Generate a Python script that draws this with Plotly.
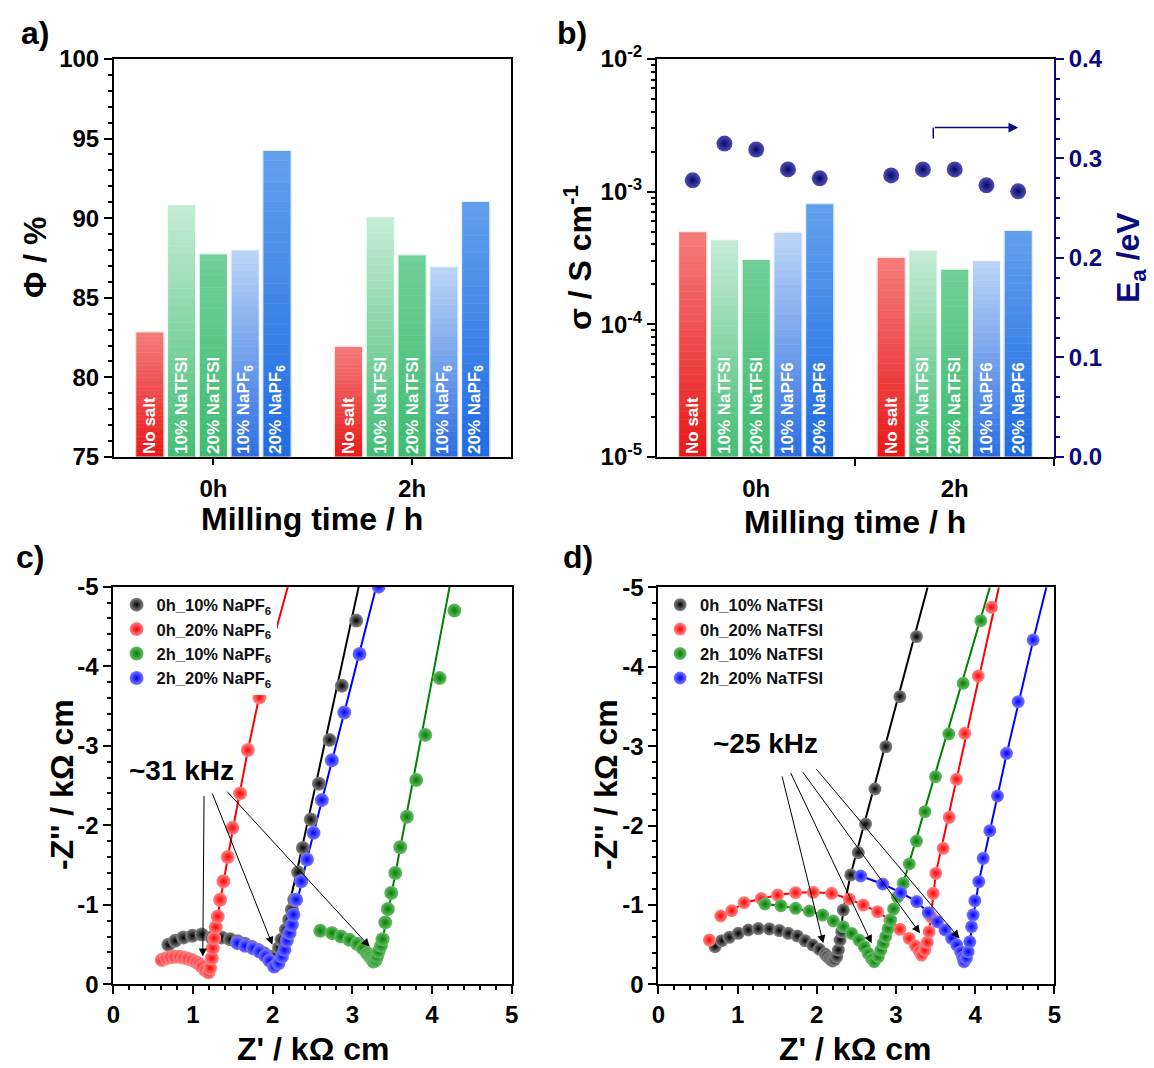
import plotly.graph_objects as go
import numpy as np

F = "Arial, Liberation Sans, sans-serif"

# ---------------- data ----------------
groups = ["0h", "2h"]
salts_a = ["No salt", "10% NaTFSI", "20% NaTFSI", "10% NaPF<sub>6</sub>", "20% NaPF<sub>6</sub>"]
salts_b = ["No salt", "10% NaTFSI", "20% NaTFSI", "10% NaPF6", "20% NaPF6"]
phi_0h = [82.85, 90.85, 87.75, 88.0, 94.25]
phi_2h = [81.95, 90.1, 87.7, 86.95, 91.05]
sigma_0h = [5.0e-4, 4.35e-4, 3.08e-4, 4.95e-4, 8.1e-4]
sigma_2h = [3.2e-4, 3.62e-4, 2.6e-4, 3.02e-4, 5.1e-4]
ea_0h = [0.278, 0.315, 0.309, 0.289, 0.280]
ea_2h = [0.283, 0.289, 0.289, 0.273, 0.267]

# panel c (NaPF6) : Z' (kOhm cm), Z'' (kOhm cm, negative)
c_names = ["0h_10% NaPF<sub>6</sub>", "0h_20% NaPF<sub>6</sub>", "2h_10% NaPF<sub>6</sub>", "2h_20% NaPF<sub>6</sub>"]
c_black_x = [0.691, 0.775, 0.879, 0.992, 1.110, 1.235, 1.361, 1.466, 1.56, 1.65, 1.74, 1.82, 1.89, 1.95, 1.99, 2.02, 2.05, 2.08, 2.11, 2.165, 2.207, 2.241, 2.27, 2.32, 2.379, 2.479, 2.580, 2.714, 2.868, 3.049]
c_black_y = [-0.496, -0.546, -0.588, -0.609, -0.626, -0.588, -0.588, -0.567, -0.54, -0.51, -0.47, -0.43, -0.39, -0.35, -0.32, -0.31, -0.37, -0.46, -0.56, -0.685, -0.811, -0.937, -1.063, -1.407, -1.715, -2.072, -2.522, -3.073, -3.754, -4.573]
c_red_x = [0.608, 0.662, 0.712, 0.766, 0.825, 0.879, 0.930, 0.985, 1.035, 1.077, 1.110, 1.152, 1.194, 1.214, 1.235, 1.248, 1.265, 1.286, 1.311, 1.340, 1.382, 1.436, 1.495, 1.591, 1.688, 1.834]
c_red_y = [-0.306, -0.327, -0.340, -0.345, -0.345, -0.336, -0.323, -0.306, -0.281, -0.256, -0.222, -0.180, -0.151, -0.202, -0.328, -0.454, -0.580, -0.719, -0.853, -1.063, -1.295, -1.601, -1.967, -2.400, -2.946, -3.607]
c_green_x = [2.597, 2.744, 2.857, 2.961, 3.058, 3.128, 3.184, 3.21, 3.234, 3.25, 3.266, 3.29, 3.309, 3.329, 3.359, 3.379, 3.413, 3.446, 3.488, 3.539, 3.601, 3.685, 3.802, 3.915, 4.095, 4.280]
c_green_y = [-0.672, -0.643, -0.601, -0.559, -0.508, -0.454, -0.391, -0.36, -0.340, -0.31, -0.285, -0.30, -0.348, -0.411, -0.483, -0.567, -0.778, -0.946, -1.148, -1.400, -1.723, -2.106, -2.568, -3.136, -3.850, -4.699]
c_blue_x = [1.558, 1.654, 1.751, 1.834, 1.906, 1.960, 2.019, 2.073, 2.116, 2.148, 2.178, 2.211, 2.241, 2.261, 2.295, 2.358, 2.430, 2.513, 2.617, 2.743, 2.898, 3.090, 3.330]
c_blue_y = [-0.517, -0.483, -0.454, -0.411, -0.357, -0.298, -0.222, -0.265, -0.348, -0.433, -0.550, -0.643, -0.748, -0.874, -1.063, -1.294, -1.568, -1.904, -2.316, -2.816, -3.417, -4.153, -5.0]
# fitted curves, panel c
fc_black_x = [0.691, 0.88, 1.11, 1.36, 1.6, 1.8, 1.95, 2.02, 2.07, 2.13, 2.2, 2.30, 3.08]
fc_black_y = [-0.496, -0.588, -0.626, -0.588, -0.53, -0.44, -0.35, -0.31, -0.44, -0.66, -0.97, -1.40, -5.0]
fc_red_x = [0.608, 0.77, 0.93, 1.08, 1.19, 1.24, 1.27, 1.30, 1.36, 1.50, 1.69, 1.83, 2.0, 2.19]
fc_red_y = [-0.306, -0.345, -0.323, -0.26, -0.15, -0.25, -0.5, -0.8, -1.15, -1.95, -2.95, -3.61, -4.3, -5.0]
fc_green_x = [2.597, 2.86, 3.06, 3.18, 3.27, 3.33, 3.39, 3.455, 4.221]
fc_green_y = [-0.672, -0.601, -0.508, -0.391, -0.285, -0.40, -0.62, -0.94, -5.0]
fc_blue_x = [1.558, 1.75, 1.91, 2.02, 2.08, 2.15, 2.24, 2.43, 3.30]
fc_blue_y = [-0.517, -0.454, -0.357, -0.222, -0.28, -0.45, -0.75, -1.568, -5.0]

# panel d (NaTFSI)
d_names = ["0h_10% NaTFSI", "0h_20% NaTFSI", "2h_10% NaTFSI", "2h_20% NaTFSI"]
d_black_x = [0.716, 0.800, 0.896, 1.010, 1.136, 1.263, 1.402, 1.528, 1.641, 1.755, 1.852, 1.949, 2.033, 2.105, 2.13, 2.159, 2.18, 2.202, 2.225, 2.253, 2.273, 2.294, 2.316, 2.336, 2.429, 2.525, 2.617, 2.735, 2.873, 3.050, 3.260]
d_black_y = [-0.475, -0.550, -0.593, -0.643, -0.685, -0.702, -0.698, -0.677, -0.643, -0.610, -0.550, -0.496, -0.442, -0.383, -0.355, -0.329, -0.31, -0.295, -0.31, -0.349, -0.433, -0.559, -0.664, -0.937, -1.378, -1.659, -2.019, -2.460, -2.993, -3.623, -4.379]
d_red_x = [0.644, 0.788, 0.927, 1.082, 1.30, 1.506, 1.733, 1.956, 2.188, 2.411, 2.587, 2.768, 2.924, 3.050, 3.168, 3.248, 3.294, 3.324, 3.366, 3.397, 3.42, 3.445, 3.471, 3.504, 3.597, 3.673, 3.765, 3.870, 4.039, 4.207]
d_red_y = [-0.558, -0.861, -0.928, -1.029, -1.08, -1.125, -1.155, -1.159, -1.146, -1.075, -0.999, -0.915, -0.810, -0.693, -0.579, -0.483, -0.420, -0.369, -0.432, -0.53, -0.664, -0.85, -1.146, -1.398, -1.713, -2.103, -2.582, -3.161, -3.883, -4.748]
d_green_x = [1.346, 1.548, 1.733, 1.906, 2.074, 2.209, 2.335, 2.440, 2.533, 2.600, 2.650, 2.692, 2.726, 2.777, 2.810, 2.840, 2.870, 2.900, 2.932, 2.97, 3.02, 3.092, 3.168, 3.260, 3.366, 3.500, 3.668, 3.849, 4.072]
d_green_y = [-1.012, -0.991, -0.957, -0.924, -0.873, -0.798, -0.726, -0.642, -0.558, -0.474, -0.390, -0.327, -0.285, -0.348, -0.432, -0.516, -0.60, -0.70, -0.810, -0.95, -1.10, -1.272, -1.516, -1.805, -2.175, -2.615, -3.153, -3.791, -4.580]
d_blue_x = [2.555, 2.833, 3.061, 3.263, 3.409, 3.523, 3.620, 3.704, 3.768, 3.818, 3.845, 3.860, 3.89, 3.912, 3.933, 3.955, 3.975, 3.997, 4.047, 4.102, 4.186, 4.283, 4.396, 4.544, 4.733]
d_blue_y = [-1.365, -1.264, -1.155, -1.042, -0.903, -0.790, -0.685, -0.580, -0.496, -0.412, -0.341, -0.286, -0.33, -0.411, -0.537, -0.726, -0.873, -1.054, -1.293, -1.587, -1.935, -2.372, -2.909, -3.560, -4.337]
# fitted curves, panel d
fd_black_x = [0.716, 0.896, 1.136, 1.402, 1.641, 1.852, 2.033, 2.159, 2.202, 2.253, 2.294, 2.336, 2.427, 3.40]
fd_black_y = [-0.475, -0.593, -0.685, -0.698, -0.643, -0.550, -0.442, -0.329, -0.295, -0.349, -0.559, -0.937, -1.377, -5.0]
fd_red_x = [0.788, 0.927, 1.082, 1.3, 1.506, 1.733, 1.956, 2.188, 2.411, 2.587, 2.768, 2.924, 3.05, 3.168, 3.248, 3.324, 3.366, 3.40, 3.43, 3.471, 3.504, 4.30]
fd_red_y = [-0.861, -0.928, -1.029, -1.08, -1.125, -1.155, -1.159, -1.146, -1.075, -0.999, -0.915, -0.810, -0.693, -0.579, -0.483, -0.369, -0.432, -0.55, -0.75, -1.146, -1.398, -5.0]
fd_green_x = [1.346, 1.548, 1.733, 1.906, 2.074, 2.209, 2.335, 2.44, 2.533, 2.60, 2.65, 2.726, 2.777, 2.84, 2.93, 3.02, 3.092, 4.186]
fd_green_y = [-1.012, -0.991, -0.957, -0.924, -0.873, -0.798, -0.726, -0.642, -0.558, -0.474, -0.390, -0.285, -0.348, -0.516, -0.81, -1.10, -1.272, -5.0]
fd_blue_x = [2.555, 2.833, 3.061, 3.263, 3.409, 3.523, 3.620, 3.704, 3.768, 3.818, 3.860, 3.89, 3.93, 3.97, 4.047, 4.40, 4.735, 4.90]
fd_blue_y = [-1.365, -1.264, -1.155, -1.042, -0.903, -0.790, -0.685, -0.580, -0.496, -0.412, -0.286, -0.33, -0.50, -0.80, -1.293, -2.909, -4.338, -5.0]

# ---------------- styles ----------------
bar_top = ["#F47C7C", "#C6ECD6", "#72CF99", "#BCD6F6", "#62A0EC"]
bar_bot = ["#E81818", "#44BD76", "#3EBB70", "#2C6EE2", "#1F6BE3"]
series_col = ["#000000", "#FF0000", "#008000", "#0000FF"]
series_hi = ["#8a8a8a", "#ff8a8a", "#6abb6a", "#7a7aff"]
NAVY = "#0A0A80"
offsets = [-0.32, -0.16, 0.0, 0.16, 0.32]
BW = 0.142
N = 30


def hex2rgb(h):
    return tuple(int(h[i:i + 2], 16) for i in (1, 3, 5))


def mix(c1, c2, t):
    a, b = hex2rgb(c1), hex2rgb(c2)
    return "rgb(%d,%d,%d)" % tuple(round(a[i] + (b[i] - a[i]) * t) for i in range(3))


fig = go.Figure()
xpos = [g + o for g in (1, 2) for o in offsets]


def gradient_bars(vals, labels, xa, ya, base, log):
    for k in range(N):
        t0, t1 = k / N, (k + 1) / N
        bases, hts, cols = [], [], []
        for i, v in enumerate(vals):
            if log:
                lo, hi = np.log10(base), np.log10(v)
                y0, y1 = 10 ** (lo + (hi - lo) * t0), 10 ** (lo + (hi - lo) * t1)
            else:
                y0, y1 = base + (v - base) * t0, base + (v - base) * t1
            bases.append(y0)
            hts.append(y1 - y0)
            cols.append(mix(bar_bot[i % 5], bar_top[i % 5], (k + 0.5) / N))
        fig.add_trace(go.Bar(x=xpos, y=hts, base=bases, width=BW, xaxis=xa, yaxis=ya,
                             marker=dict(color=cols, line=dict(color=cols, width=0.6)),
                             showlegend=False, hoverinfo="skip"))
    fig.add_trace(go.Bar(x=xpos, y=[v - base for v in vals], base=[base] * len(vals), width=BW,
                         xaxis=xa, yaxis=ya,
                         marker=dict(color="rgba(0,0,0,0)", line=dict(color="rgba(255,255,255,0.8)", width=1.2)),
                         text=labels * 2, textposition="inside", insidetextanchor="start", textangle=-90,
                         textfont=dict(family=F, size=17, color="white", weight="bold"),
                         showlegend=False, hoverinfo="skip"))


gradient_bars(phi_0h + phi_2h, salts_a, "x", "y", 75.0, False)
gradient_bars(sigma_0h + sigma_2h, salts_b, "x2", "y2", 1e-5, True)

fig.add_trace(go.Scatter(x=xpos, y=ea_0h + ea_2h, xaxis="x2", yaxis="y3", mode="markers",
                         marker=dict(size=16, color="#5050b0", gradient=dict(type="radial", color="#05056e"),
                                     line=dict(width=0)),
                         showlegend=False, hoverinfo="skip"))

# Nyquist panels
c_data = [(c_black_x, c_black_y), (c_red_x, c_red_y), (c_green_x, c_green_y), (c_blue_x, c_blue_y)]
c_fit = [(fc_black_x, fc_black_y), (fc_red_x, fc_red_y), (fc_green_x, fc_green_y), (fc_blue_x, fc_blue_y)]
d_data = [(d_black_x, d_black_y), (d_red_x, d_red_y), (d_green_x, d_green_y), (d_blue_x, d_blue_y)]
d_fit = [(fd_black_x, fd_black_y), (fd_red_x, fd_red_y), (fd_green_x, fd_green_y), (fd_blue_x, fd_blue_y)]

for data, fits, names, xa, ya, leg, msize in [(c_data, c_fit, c_names, "x3", "y4", "legend", 14),
                                               (d_data, d_fit, d_names, "x4", "y5", "legend2", 13)]:
    for i in range(4):
        fig.add_trace(go.Scatter(x=fits[i][0], y=fits[i][1], xaxis=xa, yaxis=ya, mode="lines",
                                 line=dict(color=series_col[i], width=2), showlegend=False, hoverinfo="skip"))
    for i in range(4):
        fig.add_trace(go.Scatter(x=data[i][0], y=data[i][1], xaxis=xa, yaxis=ya, mode="markers",
                                 name=names[i], legend=leg,
                                 marker=dict(size=msize, color=series_hi[i],
                                             gradient=dict(type="radial", color=series_col[i]),
                                             line=dict(width=0)),
                                 hoverinfo="skip"))

# ---------------- axes ----------------
tick_font = dict(family=F, size=24, color="black", weight="bold")


def axis(**kw):
    d = dict(showline=True, linecolor="black", linewidth=2, mirror=True, ticks="outside",
             tickcolor="black", tickwidth=2, ticklen=8, showgrid=False, zeroline=False,
             tickfont=tick_font)
    d.update(kw)
    return d


minor = lambda dt, col="black": dict(ticks="outside", ticklen=4, tickwidth=1.5, tickcolor=col, dtick=dt, showgrid=False)

ydomA = [0.5721, 0.9448]
ydomC = [0.0784, 0.4507]
log_minor = [k * 10.0 ** e for e in (-5, -4, -3) for k in range(2, 10)]

fig.update_layout(
    xaxis=axis(domain=[0.0988, 0.4432], anchor="y", range=[0.5, 2.5], tickvals=[1, 2], ticktext=groups,
               ticklen=6, ticklabelstandoff=3),
    yaxis=axis(domain=ydomA, anchor="x", range=[75, 100], tickvals=[75, 80, 85, 90, 95, 100], minor=minor(1)),
    xaxis2=axis(domain=[0.5693, 0.9133], anchor="y2", range=[0.5, 2.5], tickvals=[1, 2], ticktext=groups,
                ticks="", ticklabelstandoff=9,
                minor=dict(ticks="outside", ticklen=7, tickwidth=2, tickcolor="black", tickvals=[1.5, 2.5])),
    yaxis2=axis(domain=ydomA, anchor="x2", type="log", range=[-5, -2], mirror=False,
                tickvals=[1e-5, 1e-4, 1e-3, 1e-2],
                ticktext=["10<sup>-5</sup>", "10<sup>-4</sup>", "10<sup>-3</sup>", "10<sup>-2</sup>"],
                minor=dict(ticks="outside", ticklen=4, tickwidth=1.5, tickcolor="black", tickvals=log_minor)),
    yaxis3=axis(overlaying="y2", anchor="x2", side="right", range=[0, 0.4], tickvals=[0, 0.1, 0.2, 0.3, 0.4],
                ticktext=["0.0", "0.1", "0.2", "0.3", "0.4"], mirror=False, linecolor=NAVY, tickcolor=NAVY,
                tickfont=dict(family=F, size=24, color=NAVY, weight="bold"), minor=minor(0.02, NAVY)),
    xaxis3=axis(domain=[0.0982, 0.4434], anchor="y4", range=[0, 5], tickvals=[0, 1, 2, 3, 4, 5], minor=minor(0.2)),
    yaxis4=axis(domain=ydomC, anchor="x3", range=[0, -5], tickvals=[0, -1, -2, -3, -4, -5],
                ticktext=["0", "-1", "-2", "-3", "-4", "-5"], minor=minor(0.2)),
    xaxis4=axis(domain=[0.5705, 0.9136], anchor="y5", range=[0, 5], tickvals=[0, 1, 2, 3, 4, 5], minor=minor(0.2)),
    yaxis5=axis(domain=[0.0783, 0.4501], anchor="x4", range=[0, -5], tickvals=[0, -1, -2, -3, -4, -5],
                ticktext=["0", "-1", "-2", "-3", "-4", "-5"], minor=minor(0.2)),
    uniformtext=dict(mode="show", minsize=17),
)

leg_common = dict(xanchor="left", yanchor="top", bgcolor="white", borderwidth=0, itemwidth=30,
                  font=dict(family=F, size=16.5, color="#111111", weight="bold"), tracegroupgap=0)
fig.update_layout(
    legend=dict(x=0.101, y=0.450, **leg_common),
    legend2=dict(x=0.572, y=0.450, **leg_common),
)

# ---------------- annotations ----------------
ann = []


def ptext(text, x, y, size=32, angle=0, color="black"):
    ann.append(dict(text=text, x=x / 1154, y=1 - y / 1068, xref="paper", yref="paper", showarrow=False,
                    textangle=angle, xanchor="center", yanchor="middle",
                    font=dict(family=F, size=size, color=color, weight="bold")))


ptext("a)", 35, 33, 32)
ptext("b)", 572, 33, 32)
ptext("c)", 30, 557, 32)
ptext("d)", 578, 557, 32)
ptext("Φ / %", 35, 258, 32, -90)
ptext("Milling time / h", 312, 519, 32)
ptext("σ / S cm<sup>-1</sup>", 578, 258, 32, -90)
ptext("Milling time / h", 855, 522, 32)
ptext("E<sub>a</sub> /eV", 1130, 258, 32, -90, NAVY)
ptext("-Z'' / kΩ cm", 62, 785, 32, -90)
ptext("Z' / kΩ cm", 313, 1049, 32)
ptext("-Z'' / kΩ cm", 606, 785, 32, -90)
ptext("Z' / kΩ cm", 855, 1049, 32)

# frequency labels and arrows
ann.append(dict(text="~31 kHz", x=0.857, y=-2.69, xref="x3", yref="y4", showarrow=False,
                font=dict(family=F, size=28, color="black", weight="bold")))
ann.append(dict(text="~25 kHz", x=1.357, y=-3.035, xref="x4", yref="y5", showarrow=False,
                font=dict(family=F, size=28, color="black", weight="bold")))
for (sx, sy, ex, ey) in [(1.139, -2.387, 1.123, -0.348), (1.236, -2.416, 1.997, -0.496),
                         (1.412, -2.441, 3.216, -0.474)]:
    ann.append(dict(x=ex, y=ey, ax=sx, ay=sy, xref="x3", yref="y4", axref="x3", ayref="y4", text="",
                    showarrow=True, arrowhead=2, arrowsize=1.6, arrowwidth=1, arrowcolor="black"))
for (sx, sy, ex, ey) in [(1.558, -2.637, 2.083, -0.518), (1.663, -2.679, 2.694, -0.518),
                         (1.811, -2.691, 3.304, -0.644), (1.979, -2.729, 3.801, -0.581)]:
    ann.append(dict(x=ex, y=ey, ax=sx, ay=sy, xref="x4", yref="y5", axref="x4", ayref="y5", text="",
                    showarrow=True, arrowhead=2, arrowsize=1.6, arrowwidth=1, arrowcolor="black"))
# arrow pointing to the Ea axis
ann.append(dict(x=2.32, y=0.331, ax=1.892, ay=0.331, xref="x2", yref="y3", axref="x2", ayref="y3", text="",
                showarrow=True, arrowhead=2, arrowsize=1.3, arrowwidth=1.5, arrowcolor=NAVY))

fig.update_layout(
    annotations=ann,
    shapes=[dict(type="line", xref="x2", yref="y3", x0=1.892, x1=1.892, y0=0.320, y1=0.331,
                 line=dict(color=NAVY, width=1.5))],
    width=1154, height=1068, margin=dict(l=0, r=0, t=0, b=0),
    paper_bgcolor="white", plot_bgcolor="white", barmode="overlay", template="none",
    font=dict(family=F, color="black"),
)

fig.write_html("out.html")
